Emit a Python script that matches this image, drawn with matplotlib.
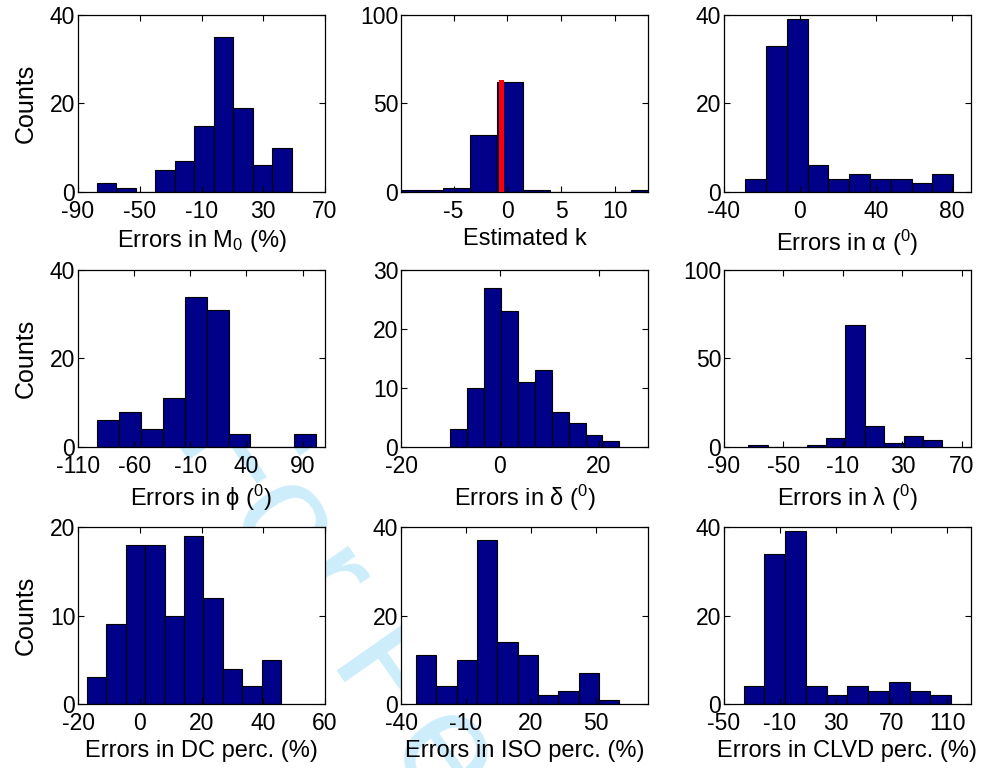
import numpy as np
import matplotlib
matplotlib.use("Agg")
import matplotlib.pyplot as plt

plt.rcParams['font.family'] = ['Liberation Sans', 'DejaVu Sans']
plt.rcParams['mathtext.fontset'] = 'custom'
plt.rcParams['mathtext.rm'] = 'Liberation Sans'
plt.rcParams['mathtext.it'] = 'Liberation Sans:italic'
plt.rcParams['mathtext.default'] = 'regular'
plt.rcParams['axes.unicode_minus'] = False

# histogram counts (10 bins each) and bin ranges
m0_counts = [2, 1, 0, 5, 7, 15, 35, 19, 6, 10]
m0_range = (-77.7, 48.4)

k_counts = [1, 1, 2, 32, 62, 1, 0, 0, 0, 1]
k_range = (-11.0, 14.0)
k_mean = -0.55

alpha_counts = [3, 33, 39, 6, 3, 4, 3, 3, 2, 4]
alpha_range = (-28.8, 80.7)

phi_counts = [6, 8, 4, 11, 34, 31, 3, 0, 0, 3]
phi_range = (-93.0, 102.2)

delta_counts = [3, 10, 27, 23, 11, 13, 6, 4, 2, 1]
delta_range = (-10.0, 24.2)

lam_counts = [1, 0, 0, 1, 5, 69, 12, 2, 6, 4]
lam_range = (-73.5, 56.9)

dc_counts = [3, 9, 18, 18, 10, 19, 12, 4, 2, 5]
dc_range = (-17.1, 45.8)

iso_counts = [11, 4, 10, 37, 14, 11, 2, 3, 7, 1]
iso_range = (-33.1, 60.8)

clvd_counts = [4, 34, 39, 4, 2, 4, 3, 5, 3, 2]
clvd_range = (-35.9, 112.8)

panels = [
    (m0_counts, m0_range, (-90, 70), [-90, -50, -10, 30, 70], (0, 40), [0, 20, 40], r'Errors in M$_0$ (%)'),
    (k_counts, k_range, (-9.9, 13.1), [-5, 0, 5, 10], (0, 100), [0, 50, 100], 'Estimated k'),
    (alpha_counts, alpha_range, (-40, 90), [-40, 0, 40, 80], (0, 40), [0, 20, 40], r'Errors in α ($^0$)'),
    (phi_counts, phi_range, (-110, 110), [-110, -60, -10, 40, 90], (0, 40), [0, 20, 40], r'Errors in ϕ ($^0$)'),
    (delta_counts, delta_range, (-20, 30), [-20, 0, 20], (0, 30), [0, 10, 20, 30], r'Errors in δ ($^0$)'),
    (lam_counts, lam_range, (-90, 76), [-90, -50, -10, 30, 70], (0, 100), [0, 50, 100], r'Errors in λ ($^0$)'),
    (dc_counts, dc_range, (-20, 60), [-20, 0, 20, 40, 60], (0, 20), [0, 10, 20], 'Errors in DC perc. (%)'),
    (iso_counts, iso_range, (-40, 74), [-40, -10, 20, 50], (0, 40), [0, 20, 40], 'Errors in ISO perc. (%)'),
    (clvd_counts, clvd_range, (-50, 127), [-50, -10, 30, 70, 110], (0, 40), [0, 20, 40], 'Errors in CLVD perc. (%)'),
]

fig = plt.figure(figsize=(9.89, 7.68), dpi=100)

# faint page watermark behind the axes
fig.text(0.175, 0.43, 'For Peer Review', fontsize=110, color='#cdedfb',
         rotation=-55, rotation_mode='anchor', ha='left', va='baseline', zorder=-1)

lefts = [0.0789, 0.4055, 0.732]
bottoms = [0.75, 0.418, 0.0833]

for i, (counts, rng, xlim, xticks, ylim, yticks, xlabel) in enumerate(panels):
    row, col = divmod(i, 3)
    ax = fig.add_axes([lefts[col], bottoms[row], 0.2497, 0.2305])
    edges = np.linspace(rng[0], rng[1], len(counts) + 1)
    ax.bar(edges[:-1], counts, width=np.diff(edges), align='edge',
           color='#000088', edgecolor='black', linewidth=0.8)
    if i == 1:
        ax.plot([k_mean, k_mean], [0, max(k_counts)], color='red', lw=3.6, zorder=3)
    ax.set_xlim(xlim)
    ax.set_ylim(ylim)
    ax.set_xticks(xticks)
    ax.set_yticks(yticks)
    ax.tick_params(direction='in', length=4, width=0.8, top=True, right=True,
                   labelsize=16.5)
    ax.tick_params(axis='x', pad=5.5)
    ax.tick_params(axis='y', pad=2)
    for s in ax.spines.values():
        s.set_linewidth(0.9)
    ax.set_xlabel(xlabel, fontsize=17, labelpad=4)
    if col == 0:
        ax.set_ylabel('Counts', fontsize=18, labelpad=9)

fig.savefig('out.png', dpi=100)
